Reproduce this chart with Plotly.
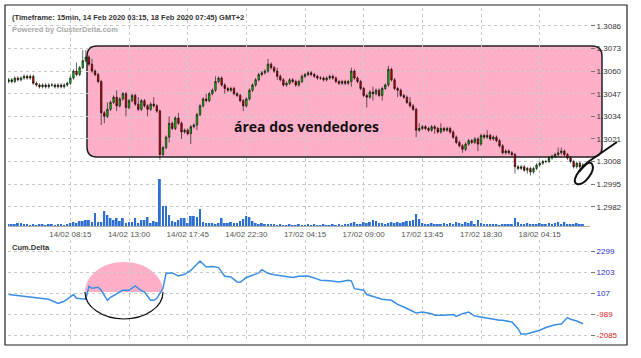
import plotly.graph_objects as go

# ---------------- data (prices in pips: 3055 -> 1.3055) ----------------
close_pips = [
    3055, 3054, 3056, 3055, 3056, 3057, 3056, 3057,
    3053, 3052, 3051, 3052, 3051, 3052, 3052, 3051, 3052, 3051, 3052, 3053,
    3056, 3060, 3058, 3062,
    3066, 3068, 3064,
    3060, 3058, 3054,
    3036, 3034, 3038,
    3042, 3045, 3040, 3044, 3047,
    3039, 3043, 3046, 3041, 3038, 3043, 3040, 3038,
    3041, 3040, 3037, 3012, 3016,
    3022, 3030, 3027, 3033,
    3030, 3025, 3026, 3024, 3028, 3029,
    3035, 3040, 3044, 3043,
    3047, 3049, 3054,
    3056, 3052, 3050,
    3049, 3050, 3047, 3046, 3043,
    3040, 3044, 3049,
    3052, 3055, 3058,
    3059, 3060, 3064, 3062,
    3060, 3057, 3055, 3052,
    3053, 3055, 3054, 3052,
    3054, 3057, 3058,
    3059, 3058, 3057, 3056, 3056, 3055, 3056, 3057, 3056, 3054, 3053, 3054, 3053, 3054,
    3060,
    3056, 3054, 3050, 3046, 3045,
    3048, 3047, 3049, 3046, 3050,
    3052, 3061, 3055,
    3050, 3049, 3046, 3045,
    3042, 3040,
    3038,
    3026,
    3027, 3028, 3027, 3026, 3028, 3027, 3025, 3027, 3026, 3027,
    3025, 3022, 3019, 3017,
    3015, 3018,
    3020, 3019, 3021, 3018,
    3023, 3022, 3023, 3021, 3022, 3020,
    3017,
    3013, 3014, 3013, 3012,
    3005,
    3004, 3005, 3003, 3004, 3002, 3004, 3006,
    3007, 3008, 3008, 3010, 3011, 3012,
    3013, 3014, 3012,
    3010, 3008, 3005, 3007, 3005, 3006,
]
first_open_pips = 3054

wick_up = [
    1, 1, 1, 1, 1, 1, 1, 1, 1, 1,
    1, 1, 1, 1, 1, 1, 1, 1, 1, 1,
    1, 1, 5, 1, 6, 4, 1, 3, 1, 1,
    1, 1, 4, 1, 1, 4, 1, 1, 1, 1,
    1, 1, 4, 1, 1, 1, 1, 4, 1, 1,
    1, 1, 4, 1, 1, 3, 1, 1, 1, 1,
    1, 1, 1, 1, 3, 1, 1, 3, 1, 1,
    1, 1, 1, 1, 1, 1, 1, 1, 1, 1,
    1, 1, 1, 1, 3, 1, 1, 2, 1, 1,
    1, 1, 1, 1, 1, 1, 1, 1, 1, 1,
    1, 1, 1, 1, 1, 1, 1, 1, 1, 1,
    1, 2, 1, 1, 1, 1, 1, 1, 3, 1,
    1, 1, 1, 2, 1, 1, 1, 1, 1, 1,
    3, 1, 1, 3, 1, 1, 1, 1, 1, 1,
    3, 1, 1, 1, 1, 1, 1, 1, 1, 1,
    1, 1, 1, 1, 1, 3, 1, 1, 1, 1,
    1, 1, 1, 1, 1, 1, 1, 1, 1, 1,
    1, 1, 1, 1, 1, 1, 1, 1, 3, 2,
    1, 1, 1, 1, 1, 1, 1,
]
wick_dn = [
    1, 1, 1, 1, 1, 1, 1, 1, 1, 1,
    1, 1, 1, 1, 1, 1, 1, 1, 1, 1,
    1, 1, 1, 1, 1, 1, 1, 1, 1, 1,
    7, 4, 1, 1, 1, 3, 1, 1, 5, 1,
    1, 1, 1, 1, 1, 4, 1, 1, 1, 3,
    1, 1, 3, 1, 1, 1, 4, 1, 1, 6,
    1, 3, 1, 1, 1, 1, 1, 1, 1, 1,
    3, 1, 1, 1, 1, 1, 3, 1, 1, 1,
    1, 1, 1, 1, 1, 1, 1, 2, 1, 1,
    1, 1, 1, 1, 1, 1, 1, 1, 1, 1,
    1, 1, 1, 1, 1, 1, 1, 1, 1, 1,
    1, 3, 1, 1, 1, 1, 6, 1, 4, 1,
    1, 3, 1, 1, 1, 1, 4, 1, 1, 1,
    1, 1, 4, 1, 1, 1, 1, 1, 3, 1,
    1, 1, 1, 1, 1, 1, 1, 2, 1, 1,
    1, 1, 4, 1, 1, 1, 1, 1, 1, 1,
    1, 1, 1, 1, 4, 1, 1, 1, 2, 2,
    1, 1, 1, 1, 1, 1, 1, 1, 1, 1,
    1, 1, 1, 1, 1, 1, 1,
]

volume = [
    2, 2, 2, 3, 3, 2, 2, 1, 2, 1, 2, 2, 1, 2, 2, 1, 2, 2, 1, 2,
    3, 4, 3, 5, 5, 6, 6, 4, 13, 4,
    4, 15, 11, 8, 6, 8, 5, 8, 3, 4,
    4, 8, 3, 6, 6, 9, 3, 5, 4,
    47,
    20, 20, 11, 5, 4, 6, 8, 8, 3, 10,
    10, 9, 17, 4, 3, 3, 3, 2, 3, 8,
    3, 3, 4, 3, 3, 5, 7, 10, 9, 5,
    3, 2, 3, 2, 2, 2, 2, 1, 2, 1,
    1, 2, 1, 1, 2, 1, 1, 2, 1, 2, 1, 1, 2, 1, 1, 2, 1, 2, 1, 2,
    2, 3, 4, 2, 2, 4, 3, 4, 6, 5,
    3, 3, 2, 3, 4, 3, 4, 3, 4, 5,
    5, 6, 12, 7, 3,
    2, 2, 3, 2, 2, 2, 3, 2, 3, 2, 4, 3, 2, 4, 3,
    5, 2, 6, 3, 2, 2, 2, 2, 2, 1,
    2, 2, 2, 2, 8, 4, 2, 2, 3, 2,
    2, 2, 3, 2, 2, 3, 2, 3, 4, 2,
    4, 2, 2, 2, 3, 2, 2,
]

delta_idx = [0, 4, 8, 13, 16, 18, 21, 22, 25, 26, 27, 29, 30, 32, 33, 35, 37, 39, 41, 43,
             44, 46, 47, 48, 50, 51, 53, 55, 57, 59, 60, 62, 64, 66, 68, 70, 72, 74, 75, 77,
             79, 81, 82, 84, 86, 90, 92, 94, 97, 99, 101, 104, 107, 110, 111, 112, 115, 116, 119, 121,
             124, 126, 128, 130, 132, 134, 137, 138, 141, 144, 145, 147, 149, 151, 154, 157, 159, 160, 163, 165,
             166, 168, 170, 172, 174, 177, 179, 181, 182, 184, 186]
delta_vals = [40, -30, -85, -205, -420, -310, 40, -155, -205, 470, 370, 420, 265, -260, -100, 100, 265, 265, 490, 230,
              175, -260, -260, -155, 370, 1150, 1170, 1010, 1100, 1300, 1480, 1790, 1480, 1500, 1450, 995, 960, 700, 680, 930,
              1045, 1170, 1340, 1150, 1080, 960, 930, 995, 1010, 910, 790, 760, 700, 790, 760, 350, 265, 40, -85, -205,
              -260, -470, -610, -780, -920, -870, -955, -1040, -1040, -1000, -1095, -955, -870, -1080, -1160, -1270, -1300, -1300, -1390, -1740,
              -2030, -2000, -1910, -1820, -1680, -1530, -1500, -1160, -1250, -1340, -1480]

tick_idx = [20, 39, 58, 77, 96, 115, 134, 153, 172]
tick_labels = ["14/02 08:15", "14/02 13:00", "14/02 17:45", "14/02 22:30", "17/02 04:15",
               "17/02 09:00", "17/02 13:45", "17/02 18:30", "18/02 04:15"]
price_ticks = [1.2982, 1.2995, 1.3008, 1.3021, 1.3034, 1.3047, 1.3060, 1.3073, 1.3086]
delta_ticks = [2299, 1203, 107, -989, -2085]

# ---------------- build OHLC ----------------
def to_price(p):
    return round(1.3 + (p - 3000) / 10000.0, 5)

bars = list(range(len(close_pips)))
open_pips = [first_open_pips] + close_pips[:-1]
high_pips = [max(o, c) + u for o, c, u in zip(open_pips, close_pips, wick_up)]
low_pips = [min(o, c) - d for o, c, d in zip(open_pips, close_pips, wick_dn)]
o_ = [to_price(v) for v in open_pips]
h_ = [to_price(v) for v in high_pips]
l_ = [to_price(v) for v in low_pips]
c_ = [to_price(v) for v in close_pips]

# ---------------- geometry ----------------
W, H = 641, 358
ML, MR, MT, MB = 8, 51, 8, 18
PW, PH = W - ML - MR, H - MT - MB


def px(x):
    return (x - ML) / PW


def py(y):
    return (H - MB - y) / PH


def path(points, close=False):
    s = ""
    for cmd, pts in points:
        s += cmd + " " + " ".join("%.5f,%.5f" % (px(a), py(b)) for a, b in pts) + " "
    if close:
        s += "Z"
    return s


FONT = "Liberation Sans, Arial, sans-serif"
GRID = "#c9c9c9"

fig = go.Figure()

fig.add_trace(go.Bar(
    x=bars, y=volume, xaxis="x", yaxis="y3", width=0.6,
    marker=dict(color="#2d6fd2", line=dict(width=0)), showlegend=False, hoverinfo="skip"))

fig.add_trace(go.Candlestick(
    x=bars, open=o_, high=h_, low=l_, close=c_, xaxis="x", yaxis="y",
    whiskerwidth=0,
    increasing=dict(fillcolor="#00d400", line=dict(color="#000000", width=0.6)),
    decreasing=dict(fillcolor="#d40000", line=dict(color="#000000", width=0.6)),
    showlegend=False))

fig.add_trace(go.Scatter(
    x=delta_idx, y=delta_vals, xaxis="x2", yaxis="y2", mode="lines",
    line=dict(color="#3a8ee6", width=1.5), showlegend=False, hoverinfo="skip"))

top_dom = [py(226), 1.0]
bot_dom = [0.0, py(240)]
xr = [-0.2, 188.3]

fig.update_layout(
    width=W, height=H,
    margin=dict(l=ML, r=MR, t=MT, b=MB),
    paper_bgcolor="white", plot_bgcolor="white",
    font=dict(family=FONT, size=8, color="#444"),
    showlegend=False,
    xaxis=dict(domain=[0, 1], anchor="y", range=xr, tickmode="array", tickvals=tick_idx,
               ticktext=tick_labels, showgrid=True, gridcolor=GRID, griddash="dot", gridwidth=1,
               zeroline=False, ticks="", tickfont=dict(size=8, color="#555", family=FONT),
               rangeslider=dict(visible=False), showline=True, linecolor="#b0b0b0", linewidth=1),
    yaxis=dict(domain=top_dom, anchor="x", side="right", range=[1.29709, 1.30963],
               tickmode="array", tickvals=price_ticks, ticktext=["%.4f" % v for v in price_ticks],
               showgrid=True, gridcolor=GRID, griddash="dot", zeroline=False,
               ticks="outside", ticklen=4, tickcolor="#777",
               tickfont=dict(size=8, color="#333", family=FONT)),
    yaxis3=dict(overlaying="y", range=[0, 218], visible=False),
    xaxis2=dict(domain=[0, 1], anchor="y2", range=xr, tickmode="array", tickvals=tick_idx,
                showticklabels=False, showgrid=True, gridcolor=GRID, griddash="dot",
                zeroline=False, ticks=""),
    yaxis2=dict(domain=bot_dom, anchor="x2", side="right", range=[-2330, 2889],
                tickmode="array", tickvals=delta_ticks,
                ticktext=["<span style='color:%s'>%d</span>" % ("#2a2ae0" if v > 0 else "#e02020", v)
                          for v in delta_ticks],
                showgrid=True, gridcolor=GRID, griddash="dot", zeroline=False,
                ticks="outside", ticklen=4, tickcolor="#777",
                tickfont=dict(size=8, family=FONT)),
)

shapes = []
# outer frame
shapes.append(dict(type="rect", xref="paper", yref="paper",
                   x0=px(5), x1=px(627), y0=py(345), y1=py(5),
                   line=dict(color="#222", width=1.2), fillcolor="rgba(0,0,0,0)", layer="above"))
# pink rounded rectangle
x0, y0, x1, y1, r = 87, 46, 602, 157, 10
rr = path([("M", [(x0 + r, y0)]), ("L", [(x1 - r, y0)]), ("Q", [(x1, y0), (x1, y0 + r)]),
           ("L", [(x1, y1 - r)]), ("Q", [(x1, y1), (x1 - r, y1)]), ("L", [(x0 + r, y1)]),
           ("Q", [(x0, y1), (x0, y1 - r)]), ("L", [(x0, y0 + r)]), ("Q", [(x0, y0), (x0 + r, y0)])], True)
shapes.append(dict(type="path", xref="paper", yref="paper", path=rr,
                   fillcolor="#ffb0c8", line=dict(color="#222", width=1.5), layer="below"))
# ellipse in bottom panel
cx, cy, rx, ryt, ryb, k = 124, 292, 39, 30, 27, 0.5523
top_half = path([("M", [(cx - rx, cy)]),
                 ("C", [(cx - rx, cy - k * ryt), (cx - k * rx, cy - ryt), (cx, cy - ryt)]),
                 ("C", [(cx + k * rx, cy - ryt), (cx + rx, cy - k * ryt), (cx + rx, cy)])], True)
shapes.append(dict(type="path", xref="paper", yref="paper", path=top_half,
                   fillcolor="#ffb0c8", line=dict(width=0), layer="below"))
bot_half = path([("M", [(cx - rx, cy)]),
                 ("C", [(cx - rx, cy + k * ryb), (cx - k * rx, cy + ryb), (cx, cy + ryb)]),
                 ("C", [(cx + k * rx, cy + ryb), (cx + rx, cy + k * ryb), (cx + rx, cy)])])
shapes.append(dict(type="path", xref="paper", yref="paper", path=bot_half,
                   line=dict(color="#111", width=1.2), layer="above"))
# hand-drawn scribble at right
scr = path([("M", [(617, 142)]), ("L", [(588, 162)]),
            ("C", [(578, 170), (571, 182), (577, 184)]),
            ("C", [(584, 186), (596, 171), (592, 164)]),
            ("C", [(589, 160), (583, 167), (579, 172)])])
shapes.append(dict(type="path", xref="paper", yref="paper", path=scr,
                   line=dict(color="#111", width=2), layer="above"))
fig.update_layout(shapes=shapes)

ann = [
    dict(x=px(10), y=py(17), text="<b>(Timeframe: 15min, 14 Feb 2020 03:15, 18 Feb 2020 07:45) GMT+2</b>",
         font=dict(size=7.5, color="#333", family=FONT)),
    dict(x=px(10), y=py(29), text="<b>Powered by ClusterDelta.com</b>",
         font=dict(size=7.5, color="#a8a8a8", family=FONT)),
    dict(x=px(10), y=py(247), text="<b>Cum.Delta</b>",
         font=dict(size=7.5, color="#333", family=FONT)),
]
for a in ann:
    a.update(xref="paper", yref="paper", xanchor="left", yanchor="middle", showarrow=False)
ann.append(dict(x=px(306), y=py(126), xref="paper", yref="paper", xanchor="center", yanchor="middle",
                showarrow=False, text="<b>área dos vendedores</b>",
                font=dict(size=14, color="#111", family="Open Sans, sans-serif")))
fig.update_layout(annotations=ann)

fig.write_html("out.html", config={"displayModeBar": False},
               post_script="document.body.style.margin='0';document.body.style.padding='0';"
                           "document.body.style.overflow='hidden';")
